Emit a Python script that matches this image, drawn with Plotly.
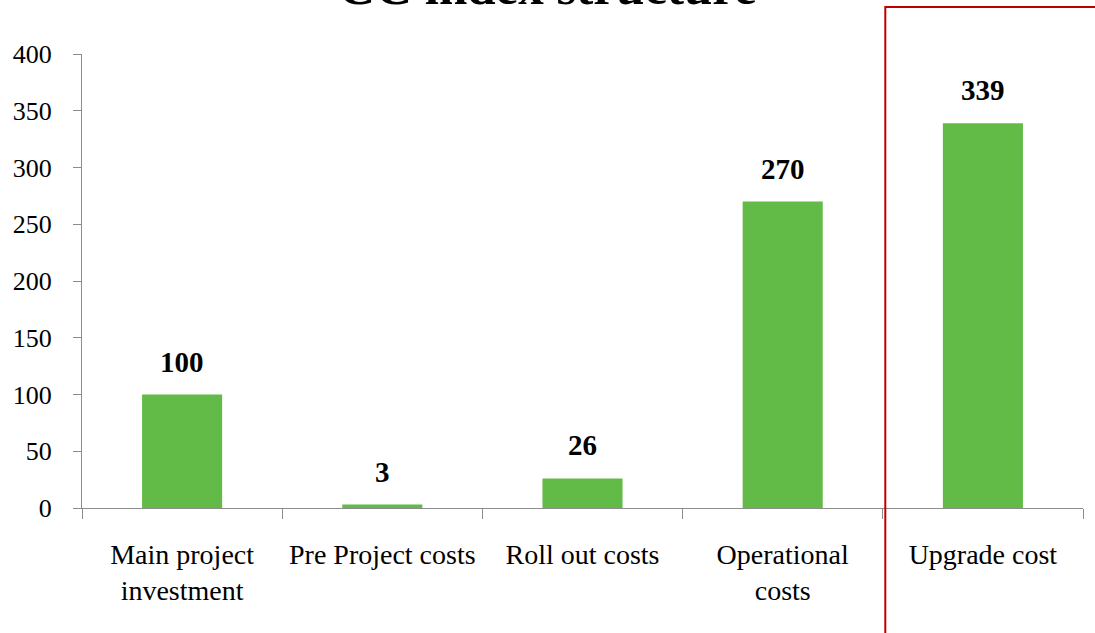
import plotly.graph_objects as go

categories = ["Main project<br>investment", "Pre Project costs", "Roll out costs", "Operational<br>costs", "Upgrade cost"]
values = [100, 3, 26, 270, 339]
value_labels = ["100", "3", "26", "270", "339"]
y_ticks = [0, 50, 100, 150, 200, 250, 300, 350, 400]

FONT = "Liberation Serif"
BAR = "#62BB47"
AXIS = "#8c8c8c"

fig = go.Figure()
fig.add_trace(go.Bar(
    x=categories, y=values, width=0.4,
    marker=dict(color=BAR, line=dict(width=0)),
    hoverinfo="x+y",
))

for c, v, t in zip(categories, values, value_labels):
    fig.add_annotation(x=c, y=v, text="<b>%s</b>" % t, showarrow=False,
                       yanchor="middle", yshift=33,
                       font=dict(family=FONT, size=29, color="#000000"))

fig.add_shape(type="rect", xref="paper", yref="paper",
              x0=0.8025, x1=1.2, y0=-0.5, y1=1.1035,
              line=dict(color="#C00000", width=2), fillcolor="rgba(0,0,0,0)")

fig.update_layout(
    width=1095, height=633,
    margin=dict(l=82, r=12, t=54, b=125),
    paper_bgcolor="white", plot_bgcolor="white",
    showlegend=False,
    title=dict(text="<b>CC index structure</b>", x=0.5, xanchor="center",
               yref="container", y=0.993, yanchor="bottom",
               font=dict(family=FONT, size=51, color="#000000")),
    font=dict(family=FONT, color="#000000"),
)
fig.update_xaxes(
    showline=True, linecolor=AXIS, linewidth=1,
    ticks="outside", tickson="boundaries", ticklen=10, tickcolor=AXIS,
    tickfont=dict(family=FONT, size=28, color="#000000"),
    ticklabelstandoff=21, showgrid=False, zeroline=False,
)
fig.update_yaxes(
    range=[0, 400], tickvals=y_ticks, showline=True, linecolor=AXIS, linewidth=1,
    ticks="outside", ticklen=8, tickcolor=AXIS,
    tickfont=dict(family=FONT, size=26, color="#000000"),
    ticklabelstandoff=16, showgrid=False, zeroline=False,
)
fig.write_html("out.html")
